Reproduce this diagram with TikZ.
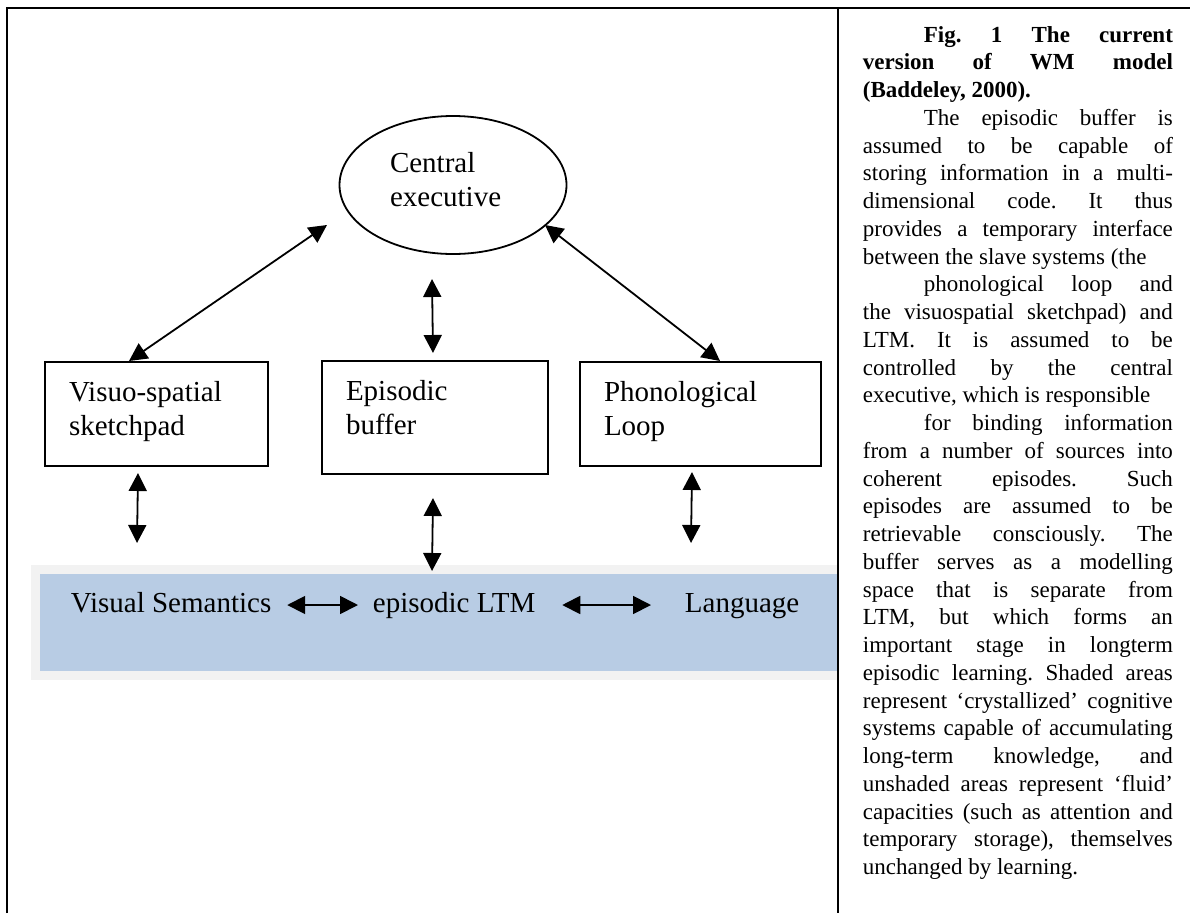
\documentclass[tikz,border=0pt]{standalone}
\usepackage{fontspec}
\setmainfont{Liberation Serif}
\usetikzlibrary{arrows.meta,shapes.geometric}
\definecolor{bandblue}{HTML}{B8CCE4}
\definecolor{bandgray}{HTML}{F2F2F2}
\tolerance=10000
\hbadness=10000
\frenchspacing
\begin{document}
\begin{tikzpicture}[x=1pt,y=-1pt,line width=1.8pt,font=\fontsize{29}{34}\selectfont,
  box/.style={draw,line width=2pt,anchor=north west,inner xsep=24pt,inner ysep=0pt,text height=39pt,align=left},
  bandtext/.style={inner sep=0pt,anchor=base west,text height=20pt,text depth=6pt},
  twoway/.style={{Triangle[length=18pt,width=18pt]}-{Triangle[length=18pt,width=18pt]},line width=1.8pt}]
  \useasboundingbox (0,0) rectangle (1190,913);
  \fill[bandgray] (31,565) rectangle (838,680);
  \fill[bandblue] (40,574) rectangle (837,671);
  \draw[line width=2.2pt] (7,913) -- (7,8) -- (1190,8);
  \draw[line width=2.2pt] (838,8) -- (838,913);
  \node[draw,ellipse,minimum width=227pt,minimum height=138pt,text width=126pt,align=left,text height=20pt,text depth=46pt] (ce) at (453,185) {Central\\executive};
  \node[box,text width=175pt,text depth=65pt] (vsp) at (44,361) {Visuo-spatial\\sketchpad};
  \node[box,text width=178pt,text depth=74pt] (epb) at (321,360) {Episodic\\buffer};
  \node[box,text width=193pt,text depth=65pt] (phl) at (579,361) {Phonological\\Loop};
  \node[bandtext] (vs) at (70,612) {Visual Semantics};
  \node[bandtext] (eltm) at (372,612) {episodic LTM};
  \node[bandtext] (lang) at (684,612) {Language};
  \coordinate (ce-sw) at (327,225);
  \coordinate (ce-se) at (545,225);
  \coordinate (ce-s) at (432,279);
  \coordinate (vsp-low) at (137,543);
  \coordinate (epb-low) at (432,571);
  \coordinate (phl-low) at (691,543);
  \draw[twoway] (ce-sw) -- ([xshift=-27.5pt]vsp.north);
  \draw[twoway] (ce-se) -- ([xshift=19.5pt]phl.north);
  \draw[twoway] (ce-s) -- ([xshift=-2pt,yshift=7pt]epb.north);
  \foreach \b/\dx/\dy in {vsp/-18.5/-6, epb/-2/-23, phl/-8.5/-5} {
    \draw[twoway] ([xshift=\dx pt,yshift=\dy pt]\b.south) -- (\b-low);
  }
  \draw[twoway] ([xshift=15pt]vs.east) -- ([xshift=-14pt]eltm.west);
  \draw[twoway] ([xshift=26pt]eltm.east) -- ([xshift=-33pt]lang.west);
  \node[anchor=base west,inner sep=0pt,text width=310pt,align=justify,font=\fontsize{23}{27.75}\selectfont] (cap) at (862,42) {%
\hspace*{61pt}{\bfseries Fig. 1 The current\linebreak version of WM model\linebreak (Baddeley, 2000).}\par
\hspace*{61pt}The episodic buffer is\linebreak assumed to be capable of\linebreak storing information in a multi-\linebreak dimensional code. It thus\linebreak provides a temporary interface\linebreak between the slave systems (the\par
\hspace*{61pt}phonological loop and\linebreak the visuospatial sketchpad) and\linebreak LTM. It is assumed to be\linebreak controlled by the central\linebreak executive, which is responsible\par
\hspace*{61pt}for binding information\linebreak from a number of sources into\linebreak coherent episodes. Such\linebreak episodes are assumed to be\linebreak retrievable consciously. The\linebreak buffer serves as a modelling\linebreak space that is separate from\linebreak LTM, but which forms an\linebreak important stage in longterm\linebreak episodic learning. Shaded areas\linebreak represent `crystallized' cognitive\linebreak systems capable of accumulating\linebreak long-term knowledge, and\linebreak unshaded areas represent `fluid'\linebreak capacities (such as attention and\linebreak temporary storage), themselves\linebreak unchanged by learning.};
\end{tikzpicture}
\end{document}
